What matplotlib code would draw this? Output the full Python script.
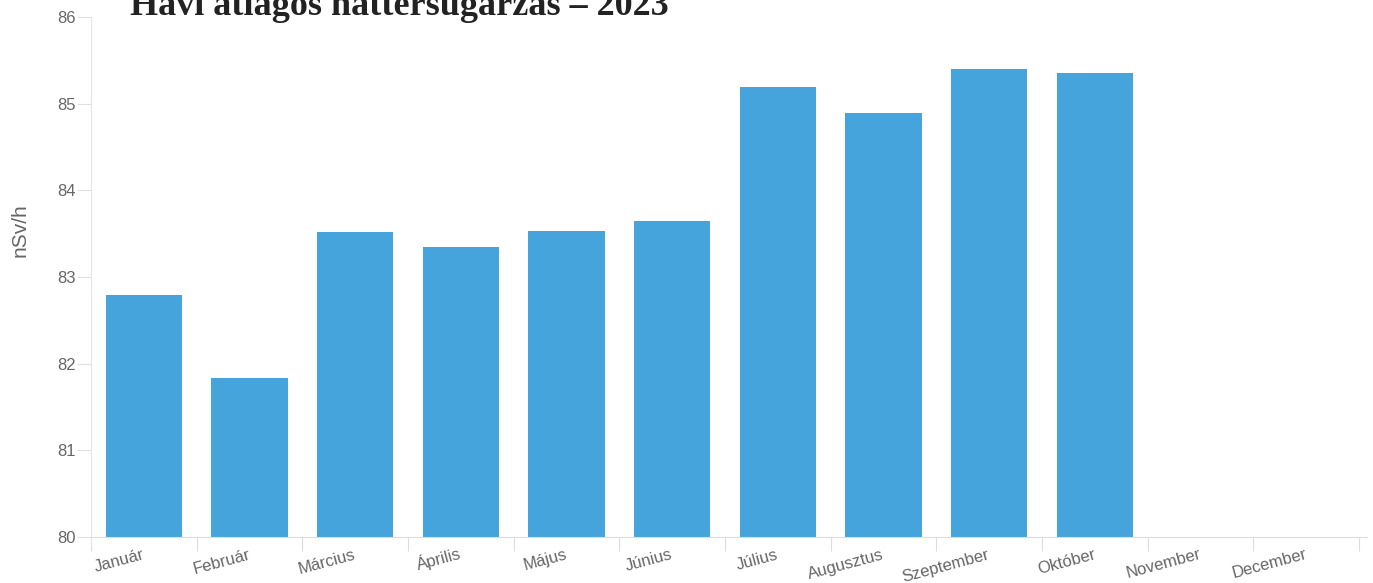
import numpy as np
import matplotlib.pyplot as plt

months = ['Január', 'Február', 'Március', 'Április', 'Május', 'Június',
          'Július', 'Augusztus', 'Szeptember', 'Október', 'November', 'December']
values = [82.79, 81.83, 83.52, 83.35, 83.53, 83.65, 85.19, 84.89, 85.40, 85.35]
yticks = [80, 81, 82, 83, 84, 85, 86]

plt.rcParams['font.family'] = ['Liberation Sans', 'DejaVu Sans']

fig = plt.figure(figsize=(13.73, 5.83), dpi=100)
ax = fig.add_axes([91 / 1373, 1 - 537 / 583, (1367 - 91) / 1373, 520 / 583])

x = np.arange(len(values))
ax.bar(x, np.array(values) - 80, bottom=80, width=0.72, color='#44a4db', zorder=2)

ax.set_ylim(80, 86)
ax.set_xlim(-0.5, 11.5 + 8 / 105.7)
ax.set_yticks(yticks)
ax.set_yticklabels([str(v) for v in yticks])

# ticks sit on the category boundaries, labels end at the category centre
ax.set_xticks(np.arange(len(months) + 1) - 0.5)
ax.set_xticklabels([])
for i, m in enumerate(months):
    ax.annotate(m, xy=(i, 80), xycoords='data', xytext=(1, -15.5),
                textcoords='offset points', rotation=15, ha='right', va='baseline',
                rotation_mode='anchor', fontsize=12, color='#666666')

for s in ['top', 'right']:
    ax.spines[s].set_visible(False)
ax.spines['left'].set_color('#e6e6e6')
ax.spines['bottom'].set_color('#dcdcdc')
ax.spines['left'].set_bounds(80 - 0.1, 86)
ax.tick_params(axis='y', length=10, color='#e0e0e0', labelcolor='#666666', labelsize=12, pad=1)
ax.tick_params(axis='x', length=10, color='#dcdcdc')

ax.set_ylabel('nSv/h', fontsize=15, color='#666666')
ax.yaxis.set_label_coords(-0.048, 0.59)

fig.text(130 / 1373, 1 - 15 / 583, 'Havi átlagos háttérsugárzás – 2023',
         family=['Liberation Serif', 'DejaVu Serif'], fontsize=26, weight='bold',
         color='#222222', va='baseline', ha='left')

plt.savefig('out.png')
